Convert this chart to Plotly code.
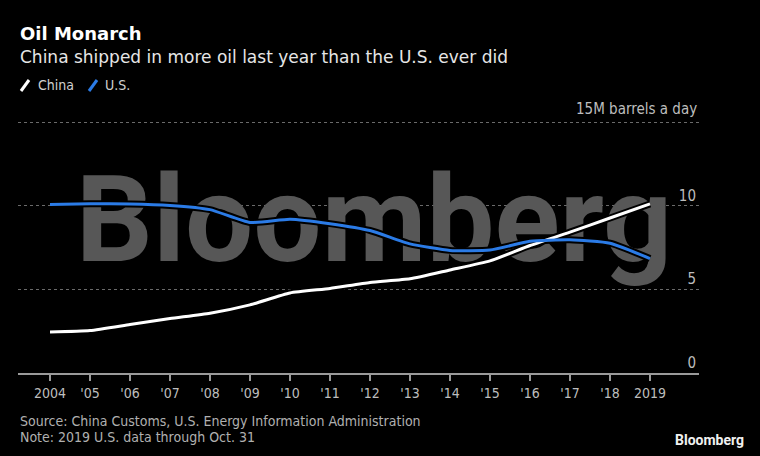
import plotly.graph_objects as go

years = list(range(2004, 2020))
tick_labels = ["2004", "'05", "'06", "'07", "'08", "'09", "'10", "'11", "'12",
               "'13", "'14", "'15", "'16", "'17", "'18", "2019"]
china = [2.45, 2.54, 2.90, 3.26, 3.58, 4.08, 4.79, 5.06, 5.42, 5.64, 6.17, 6.71, 7.63, 8.43, 9.28, 10.12]
us = [10.09, 10.13, 10.12, 10.03, 9.78, 9.01, 9.21, 8.94, 8.53, 7.73, 7.34, 7.36, 7.88, 7.97, 7.77, 6.85]
y_ticks = [0, 5, 10, 15]
y_tick_labels = ["0", "5", "10", ""]
y_unit_label = "15M barrels a day"

W_FIG, H_FIG = 760, 456
L, R, T, B = 18, 61, 89, 83
PW, PH = W_FIG - L - R, H_FIG - T - B

def xp(px):
    return (px - L) / PW

def yp(py):
    return (T + PH - py) / PH

COND = "DejaVu Sans Condensed, Liberation Sans Narrow, Arial Narrow, sans-serif"
REG = "DejaVu Sans, sans-serif"
BLUE = "#2b7be6"

fig = go.Figure()

# watermark (behind the lines)
fig.add_trace(go.Scatter(
    x=[2012.1], y=[8.53], mode="text", text=["Bloomberg"],
    textposition="middle center",
    textfont=dict(family="Roboto", size=121, color="#575757", weight="bold"),
    hoverinfo="skip", showlegend=False))

for vals in (china, us):
    fig.add_trace(go.Scatter(x=years, y=vals, mode="lines",
                             line=dict(color="black", width=7, shape="spline", smoothing=0.5),
                             hoverinfo="skip", showlegend=False))
fig.add_trace(go.Scatter(x=years, y=china, mode="lines", name="China",
                         line=dict(color="white", width=3, shape="spline", smoothing=0.5),
                         showlegend=False))
fig.add_trace(go.Scatter(x=years, y=us, mode="lines", name="U.S.",
                         line=dict(color=BLUE, width=3, shape="spline", smoothing=0.5),
                         showlegend=False))

fig.update_layout(
    width=W_FIG, height=H_FIG,
    margin=dict(l=L, r=R, t=T, b=B),
    paper_bgcolor="black", plot_bgcolor="black",
    showlegend=False,
    xaxis=dict(range=[2003.2, 2020.225], tickvals=years, ticktext=tick_labels,
               showgrid=False, zeroline=False, showline=True, linecolor="#9a9a9a", linewidth=2,
               ticks="outside", ticklen=6, tickwidth=1.5, tickcolor="#9a9a9a",
               tickfont=dict(family=COND, size=14, color="#bdbdbd")),
    yaxis=dict(range=[0, 17], tickvals=y_ticks, ticktext=y_tick_labels,
               side="right", ticklabelposition="inside top",
               showgrid=True, gridcolor="#6a6a6a", griddash="dot", gridwidth=1,
               zeroline=False, showline=False, ticks="",
               tickfont=dict(family=COND, size=15, color="#bdbdbd")),
)

ann = [
    dict(text="<b>Oil Monarch</b>", x=xp(18), y=yp(33), font=dict(family="DejaVu Sans", size=18, color="white")),
    dict(text="China shipped in more oil last year than the U.S. ever did", x=xp(18), y=yp(57),
         font=dict(family=REG, size=17, color="#e6e6e6")),
    dict(text="China", x=xp(36), y=yp(85), font=dict(family=COND, size=14, color="#d0d0d0")),
    dict(text="U.S.", x=xp(103), y=yp(85), font=dict(family=COND, size=14, color="#d0d0d0")),
    dict(text="Source: China Customs, U.S. Energy Information Administration", x=xp(18), y=yp(421),
         font=dict(family=COND, size=14, color="#b0b0b0")),
    dict(text="Note: 2019 U.S. data through Oct. 31", x=xp(18), y=yp(437),
         font=dict(family=COND, size=14, color="#b0b0b0")),
]
for a in ann:
    a.update(xref="paper", yref="paper", xanchor="left", yanchor="middle", showarrow=False)
fig.update_layout(annotations=ann)
fig.add_annotation(text=y_unit_label, xref="paper", yref="y", x=xp(699), y=y_ticks[-1],
                   xanchor="right", yanchor="bottom", yshift=2, showarrow=False,
                   font=dict(family=COND, size=15, color="#bdbdbd"))
fig.add_annotation(text="<b>Bloomberg</b>", xref="paper", yref="paper", x=xp(746), y=yp(440),
                   xanchor="right", yanchor="middle", showarrow=False,
                   font=dict(family="Roboto", size=14, color="#f0f0f0"))

# legend swatches
fig.add_shape(type="line", xref="paper", yref="paper", x0=xp(21), y0=yp(91), x1=xp(29), y1=yp(80),
              line=dict(color="white", width=3))
fig.add_shape(type="line", xref="paper", yref="paper", x0=xp(89), y0=yp(91), x1=xp(97), y1=yp(80),
              line=dict(color=BLUE, width=3))

fig.write_html("out.html")
